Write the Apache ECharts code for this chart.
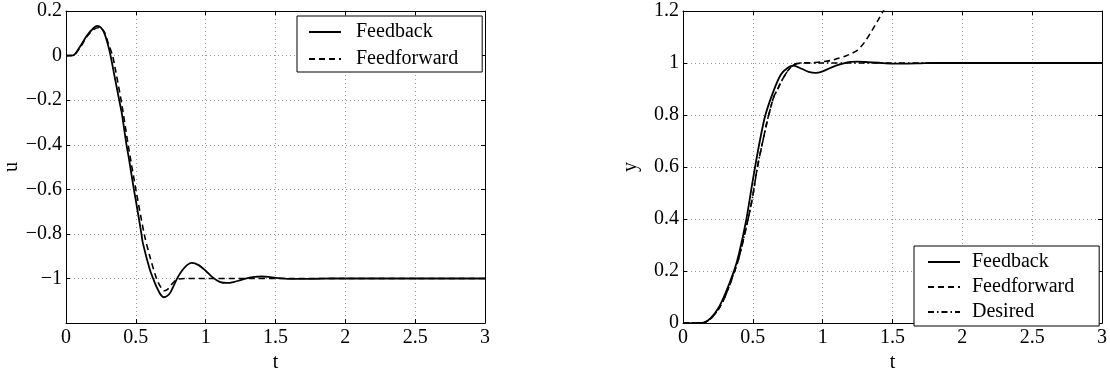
<!DOCTYPE html>
<html>
<head>
<meta charset="utf-8">
<script src="https://cdn.jsdelivr.net/npm/echarts@6/dist/echarts.min.js"></script>
<style>
html,body{margin:0;padding:0;background:#fff;}
#chart{width:1110px;height:378px;}
</style>
</head>
<body>
<div id="chart"></div>
<script>
// ---- Data ----
const xTicks = [0, 0.5, 1, 1.5, 2, 2.5, 3];
const uTicks = [-1.2, -1, -0.8, -0.6, -0.4, -0.2, 0, 0.2];
const yTicks = [0, 0.2, 0.4, 0.6, 0.8, 1, 1.2];

// Left panel: control signal u
const tFeedbackU = [0,0.05,0.1,0.15,0.2,0.224,0.25,0.275,0.3,0.319,0.35,0.381,0.4,0.433,0.45,0.486,0.5,0.54,0.55,0.6,0.624,0.65,0.675,0.7,0.725,0.75,0.8,0.85,0.9,0.95,1.0,1.05,1.1,1.15,1.2,1.25,1.3,1.35,1.4,1.45,1.5,1.6,1.7,1.8,1.9,2.0,2.5,3.0];
const uFeedback  = [0,0.001,0.04,0.09,0.125,0.133,0.125,0.1,0.05,0,-0.1,-0.2,-0.26,-0.4,-0.46,-0.6,-0.65,-0.8,-0.84,-0.96,-1.0,-1.04,-1.07,-1.084,-1.078,-1.06,-0.995,-0.95,-0.93,-0.94,-0.965,-0.995,-1.015,-1.02,-1.016,-1.007,-0.998,-0.993,-0.991,-0.993,-0.997,-1.002,-1.002,-1.001,-1,-1,-1,-1];

const tFeedforwardU = [0,0.05,0.1,0.15,0.2,0.24,0.275,0.3,0.333,0.35,0.4,0.445,0.5,0.56,0.6,0.648,0.675,0.7,0.725,0.75,0.8,0.85,1.0,1.5,2.0,2.5,3.0];
const uFeedforward  = [0,0.001,0.035,0.085,0.118,0.126,0.105,0.06,0,-0.05,-0.22,-0.4,-0.6,-0.8,-0.9,-1.0,-1.035,-1.055,-1.05,-1.03,-1.003,-1.0,-1,-1,-1,-1,-1];

// Right panel: output y
const tFeedbackY = [0,0.1,0.15,0.2,0.25,0.3,0.365,0.4,0.454,0.5,0.55,0.59,0.65,0.7,0.75,0.79,0.85,0.9,0.95,1.0,1.05,1.1,1.15,1.2,1.25,1.3,1.4,1.5,1.6,1.7,1.8,2.0,2.5,3.0];
const yFeedback  = [0,0,0.002,0.02,0.055,0.11,0.2,0.265,0.4,0.55,0.7,0.8,0.895,0.955,0.982,0.99,0.978,0.966,0.962,0.968,0.98,0.991,0.999,1.004,1.005,1.004,1.001,0.998,0.998,0.999,1.0,1,1,1];

const tFeedforwardY = [0,0.1,0.15,0.2,0.25,0.3,0.37,0.4,0.466,0.5,0.533,0.6,0.614,0.65,0.68,0.7,0.75,0.8,0.85,0.9,0.95,1.0,1.07,1.1,1.17,1.2,1.25,1.3,1.35,1.4,1.45,1.5];
const yFeedforward  = [0,0,0.002,0.018,0.05,0.1,0.2,0.25,0.4,0.49,0.6,0.77,0.8,0.87,0.902,0.925,0.97,0.995,1.0,1.001,1.002,1.005,1.011,1.016,1.028,1.035,1.05,1.08,1.122,1.168,1.215,1.26];

const tDesired = [0,0.1,0.15,0.2,0.25,0.3,0.37,0.4,0.466,0.5,0.533,0.6,0.614,0.65,0.68,0.7,0.75,0.8,0.85,1.0,1.5,2.0,2.5,3.0];
const yDesired = [0,0,0.002,0.018,0.05,0.1,0.2,0.25,0.4,0.49,0.6,0.77,0.8,0.87,0.902,0.925,0.97,0.995,1.0,1,1,1,1,1];

// ---- Helpers ----
const pairs = (xs, ys) => xs.map((x, i) => [x, ys[i]]);
const FONT = '"Times New Roman", "Liberation Serif", "DejaVu Serif", serif';
const FS = 20;
const fmt = v => {
  const r = Number(v.toFixed(2));
  return r < 0 ? '\u2212' + Math.abs(r) : String(r);
};

function mainX(gi, name) {
  return {
    type: 'value', gridIndex: gi, position: 'bottom',
    min: xTicks[0], max: xTicks[xTicks.length - 1], interval: xTicks[1] - xTicks[0],
    name: name, nameLocation: 'middle', nameGap: 28,
    nameTextStyle: { fontFamily: FONT, fontSize: FS, color: '#000' },
    axisLine: { show: true, onZero: false, lineStyle: { color: '#000', width: 1 } },
    axisTick: { show: true, inside: true, length: 4, lineStyle: { color: '#000' } },
    axisLabel: { fontFamily: FONT, fontSize: FS, color: '#000', margin: 5, formatter: fmt },
    splitLine: { show: true, lineStyle: { color: '#999', type: [1, 3], width: 1 } }
  };
}
function topX(gi) {
  return {
    type: 'value', gridIndex: gi, position: 'top',
    min: xTicks[0], max: xTicks[xTicks.length - 1], interval: xTicks[1] - xTicks[0],
    axisLine: { show: true, onZero: false, lineStyle: { color: '#000', width: 1 } },
    axisTick: { show: true, inside: true, length: 4, lineStyle: { color: '#000' } },
    axisLabel: { show: false }, splitLine: { show: false }
  };
}
function mainY(gi, ticks, name, hideMin) {
  return {
    type: 'value', gridIndex: gi, position: 'left',
    min: ticks[0], max: ticks[ticks.length - 1], interval: Number((ticks[1] - ticks[0]).toFixed(2)),
    name: name, nameLocation: 'middle', nameGap: 42, nameRotate: 90,
    nameTextStyle: { fontFamily: FONT, fontSize: FS, color: '#000' },
    axisLine: { show: true, onZero: false, lineStyle: { color: '#000', width: 1 } },
    axisTick: { show: true, inside: true, length: 4, lineStyle: { color: '#000' } },
    axisLabel: { fontFamily: FONT, fontSize: FS, color: '#000', margin: 4,
      formatter: v => (hideMin && Math.abs(v - ticks[0]) < 1e-9) ? '' : fmt(v) },
    splitLine: { show: true, lineStyle: { color: '#999', type: [1, 3], width: 1 } }
  };
}
function rightY(gi, ticks) {
  return {
    type: 'value', gridIndex: gi, position: 'right',
    min: ticks[0], max: ticks[ticks.length - 1], interval: Number((ticks[1] - ticks[0]).toFixed(2)),
    axisLine: { show: true, onZero: false, lineStyle: { color: '#000', width: 1 } },
    axisTick: { show: true, inside: true, length: 4, lineStyle: { color: '#000' } },
    axisLabel: { show: false }, splitLine: { show: false }
  };
}
function line(name, xi, yi, data, dash) {
  return {
    name: name, type: 'line', xAxisIndex: xi, yAxisIndex: yi,
    data: data, symbol: 'none', showSymbol: false, smooth: 0.3,
    clip: true, animation: false, color: '#000',
    itemStyle: { color: '#000' },
    lineStyle: { color: '#000', width: dash === 'solid' ? 1.8 : 1.6, type: dash }
  };
}

const legendCommon = {
  orient: 'vertical', backgroundColor: '#fff', borderColor: '#000', borderWidth: 1,
  itemWidth: 32, itemHeight: 14,
  itemStyle: { opacity: 0 },
  inactiveColor: '#000'
};

const option = {
  animation: false,
  backgroundColor: '#fff',
  textStyle: { fontFamily: FONT },
  grid: [
    { left: 66, top: 11, width: 419, height: 319, containLabel: false },
    { left: 683, top: 11, width: 419, height: 319, containLabel: false }
  ],
  xAxis: [mainX(0, 't'), topX(0), mainX(1, 't'), topX(1)],
  yAxis: [mainY(0, uTicks, 'u', true), rightY(0, uTicks), mainY(1, yTicks, 'y', false), rightY(1, yTicks)],
  legend: [
    Object.assign({}, legendCommon, { left: 297, top: 16, itemGap: 7, padding: [6, 24, 3, 11],
      textStyle: { fontFamily: FONT, fontSize: FS, color: '#000', padding: [0, 0, 0, 10] },
      data: ['Feedback', 'Feedforward'] }),
    Object.assign({}, legendCommon, { left: 914, top: 246, itemGap: 5, padding: [6, 25, 4, 13],
      textStyle: { fontFamily: FONT, fontSize: FS, color: '#000', padding: [0, 0, 0, 7] },
      data: ['Feedback', 'Feedforward', 'Desired'] })
  ],
  series: [
    line('Feedforward', 0, 0, pairs(tFeedforwardU, uFeedforward), [6, 4]),
    line('Feedback', 0, 0, pairs(tFeedbackU, uFeedback), 'solid'),
    line('Desired', 2, 2, pairs(tDesired, yDesired), [6, 3, 1.5, 3]),
    line('Feedforward', 2, 2, pairs(tFeedforwardY, yFeedforward), [6, 4]),
    line('Feedback', 2, 2, pairs(tFeedbackY, yFeedback), 'solid')
  ]
};

const chart = echarts.init(document.getElementById('chart'), null, { renderer: 'canvas' });
chart.setOption(option);
</script>
</body>
</html>
